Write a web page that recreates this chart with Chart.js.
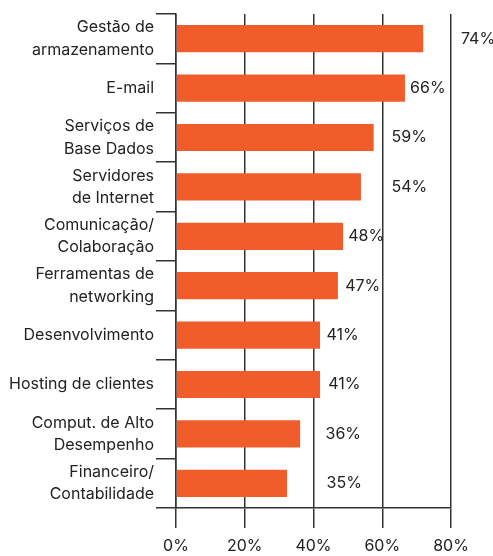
<!DOCTYPE html>
<html>
<head>
<meta charset="utf-8">
<script src="https://cdn.jsdelivr.net/npm/chart.js@4/dist/chart.umd.min.js"></script>
<style>
  html, body { margin: 0; padding: 0; background: #ffffff; }
  #wrap { width: 493px; height: 556px; position: relative; }
</style>
</head>
<body>
<div id="wrap"><canvas id="c" width="493" height="556"></canvas></div>
<script>
// Categories (multi-line labels)
const categories = [
  ['Gestão de', 'armazenamento'],
  ['E-mail'],
  ['Serviços de', 'Base Dados'],
  ['Servidores', 'de Internet'],
  ['Comunicação/', 'Colaboração'],
  ['Ferramentas de', 'networking'],
  ['Desenvolvimento'],
  ['Hosting de clientes'],
  ['Comput. de Alto', 'Desempenho'],
  ['Financeiro/', 'Contabilidade']
];
// Bar lengths as drawn (percent)
const barValues = [71.9, 66.6, 57.5, 53.8, 48.6, 47.1, 41.9, 41.9, 36.1, 32.3];
// Printed value labels
const valueLabels = ['74%', '66%', '59%', '54%', '48%', '47%', '41%', '41%', '36%', '35%'];
// Where each value label sits, in axis units (percent)
const labelAt = [82.9, 68.1, 62.7, 62.7, 50.1, 49.2, 43.8, 44.3, 43.5, 43.8];
// X tick values
const xTicks = [0, 20, 40, 60, 80];

const FONT = 'Inter, "Noto Sans", sans-serif';
const LINE = '#333333';
const TEXT = '#222222';

const valueLabelPlugin = {
  id: 'valueLabels',
  afterDatasetsDraw(chart) {
    const ctx = chart.ctx;
    const xs = chart.scales.x;
    const meta = chart.getDatasetMeta(0);
    ctx.save();
    ctx.font = '16px ' + FONT;
    ctx.fillStyle = TEXT;
    ctx.textAlign = 'left';
    ctx.textBaseline = 'middle';
    meta.data.forEach((bar, i) => {
      ctx.fillText(valueLabels[i], xs.getPixelForValue(labelAt[i]), bar.y);
    });
    ctx.restore();
  }
};

new Chart(document.getElementById('c'), {
  type: 'bar',
  data: {
    labels: categories,
    datasets: [{
      data: barValues,
      backgroundColor: '#F15C2B',
      borderWidth: 0,
      categoryPercentage: 1.0,
      barPercentage: 0.55
    }]
  },
  options: {
    indexAxis: 'y',
    responsive: false,
    animation: false,
    events: [],
    layout: { padding: { top: 14, right: 42, bottom: 0, left: 0 } },
    plugins: { legend: { display: false }, tooltip: { enabled: false } },
    scales: {
      x: {
        min: 0, max: 80,
        afterBuildTicks(scale) { scale.ticks = xTicks.map(v => ({ value: v })); },
        afterFit(scale) { scale.height = 48; },
        ticks: {
          callback: v => v + '%',
          font: { family: FONT, size: 16 },
          color: TEXT,
          padding: 9,
          maxRotation: 0
        },
        grid: { color: LINE, lineWidth: 1.5, drawTicks: true, tickLength: 20, tickColor: LINE },
        border: { display: true, color: LINE, width: 1.5 }
      },
      y: {
        offset: true,
        afterFit(scale) { scale.width = 176; scale.paddingTop = 0; scale.paddingBottom = 0; },
        ticks: {
          font: { family: FONT, size: 16, lineHeight: 1.4 },
          color: TEXT,
          padding: 2,
          autoSkip: false
        },
        grid: { offset: true, drawOnChartArea: false, drawTicks: true, tickLength: 20, color: LINE, lineWidth: 1.5 },
        border: { display: true, color: LINE, width: 1.5 }
      }
    }
  },
  plugins: [valueLabelPlugin]
});
</script>
</body>
</html>
